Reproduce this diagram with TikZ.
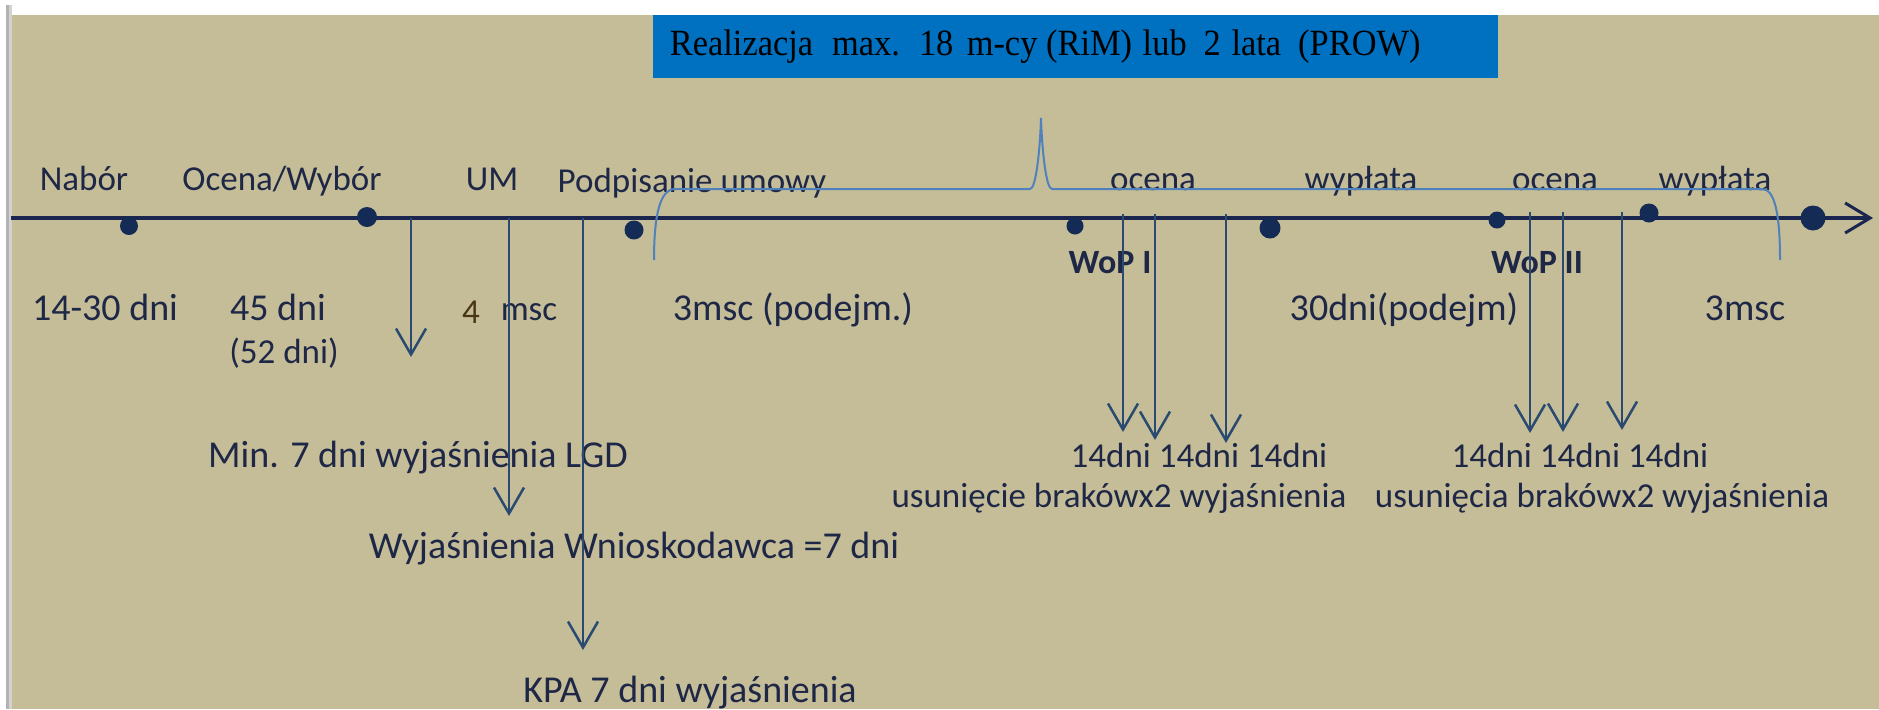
\documentclass[tikz,border=0pt]{standalone}
\usepackage{fontspec}
\setmainfont{Carlito}
\newfontfamily\timesf{Liberation Serif}
\usetikzlibrary{arrows.meta}
\definecolor{bg}{HTML}{C4BD97}
\definecolor{boxblue}{HTML}{0070C0}
\definecolor{navy}{HTML}{1A2550}
\definecolor{dotc}{HTML}{142B55}
\definecolor{txt}{HTML}{1F2747}
\definecolor{arr}{HTML}{2A4A72}
\definecolor{bracec}{HTML}{4F81BD}
\definecolor{four}{HTML}{4A3814}
\tikzset{
  lbl/.style={font=\fontsize{17.5}{20}\selectfont, text=txt, inner sep=0pt, anchor=base},
  biglbl/.style={lbl, font=\fontsize{19}{22}\selectfont},
  boldlbl/.style={lbl, font=\fontsize{17}{20}\selectfont\bfseries},
  tdot/.style={circle, fill=dotc, inner sep=0pt, minimum size=#1},
  varrow/.style={draw=arr, line width=1.25pt, -{Straight Barb[length=13pt, width=15pt, line width=1.25pt]}},
  bluebox/.style={fill=boxblue, anchor=north west, minimum width=422.5pt, minimum height=31.5pt, text width=406pt, inner xsep=8pt, align=left, font=\timesf\fontsize{18.5}{20}\selectfont, text=black}
}
\begin{document}
\begin{tikzpicture}[x=0.5pt, y=-0.5pt]
\useasboundingbox (0,0) rectangle (1879,709);
\fill[white] (0,0) rectangle (1879,709);
\fill[bg] (12,15) rectangle (1879,709);
\fill[gray!60] (6,5) rectangle (9,709);
\fill[gray!35] (9,5) rectangle (12,709);

% title box
\node[bluebox] (box) at (653,15) {\scalebox{0.93}[1]{Realizacja\hspace{4pt} max.\hspace{1pt} 18\hspace{1pt} m-cy\hspace{-1.5pt} (RiM)\hspace{-0.5pt} lub\hspace{3pt} 2\hspace{-0.5pt} lata\hspace{3pt} (PROW)}};

% labels above the line
\node[lbl] (nabor) at (84,190) {Nabór};
\node[lbl] (ocwyb) at (282,190) {Ocena/Wybór};
\node[lbl] (um) at (492,190) {UM};
\node[lbl] (podp) at (692,192) {Podpisanie umowy};
\node[lbl] (oc1) at (1153,190) {ocena};
\node[lbl] (wyp1) at (1361,190) {wypłata};
\node[lbl] (oc2) at (1555,190) {ocena};
\node[lbl] (wyp2) at (1715,190) {wypłata};

% labels below the line
\node[biglbl] (d1430) at (105,320) {14-30 dni};
\node[biglbl] (d45) at (278,320) {45 dni};
\node[lbl] (d52) at (284,363) {(52 dni)};
\node[lbl, text=four] (four) at (471,323) {4};
\node[lbl] (msc) at (529,320) {msc};
\node[biglbl] (m3a) at (793,320) {3msc (podejm.)};
\node[boldlbl] (wop1) at (1110,273) {WoP I};
\node[biglbl] (d30) at (1404,320) {30dni(podejm)};
\node[boldlbl] (wop2) at (1537,273) {WoP II};
\node[biglbl] (m3b) at (1745,320) {3msc};

% bottom labels
\node[biglbl] (lgd) at (418,467) {Min. 7 dni wyjaśnienia LGD};
\node[biglbl] (wnio) at (634,558) {Wyjaśnienia Wnioskodawca =7 dni};
\node[biglbl] (kpa) at (690,702) {KPA 7 dni wyjaśnienia};
\node[lbl] (dni1) at (1199,467) {14dni 14dni 14dni};
\node[lbl] (usu1) at (1119,507) {usunięcie brakówx2 wyjaśnienia};
\node[lbl] (dni2) at (1580,467) {14dni 14dni 14dni};
\node[lbl] (usu2) at (1602,507) {usunięcia brakówx2 wyjaśnienia};

% timeline
\coordinate (t0) at (11,218);
\coordinate (t1) at (1873,218);
\draw[navy, line width=2pt, -{Straight Barb[length=12.5pt, width=15pt, line width=1.5pt]}] (t0) -- (t1);

% dots
\node[tdot=9pt] (p1) at (129,226) {};
\node[tdot=10pt] (p2) at (367,217) {};
\node[tdot=9.5pt] (p3) at (634,230) {};
\node[tdot=8.5pt] (p4) at (1075,226) {};
\node[tdot=10.5pt] (p5) at (1270,228) {};
\node[tdot=8.5pt] (p6) at (1497,220) {};
\node[tdot=9.5pt] (p7) at (1649,213) {};
\node[tdot=12.5pt] (p8) at (1813,218) {};

% vertical arrows
\coordinate (a1s) at (411,218);  \coordinate (a1e) at (411,357);
\coordinate (a2s) at (509,218);  \coordinate (a2e) at (509,516);
\coordinate (a3s) at (583,218);  \coordinate (a3e) at (583,650);
\coordinate (b1s) at (1123,214); \coordinate (b1e) at (1123,432);
\coordinate (b2s) at (1155,214); \coordinate (b2e) at (1155,440);
\coordinate (b3s) at (1226,214); \coordinate (b3e) at (1226,443);
\coordinate (c1s) at (1530,212); \coordinate (c1e) at (1530,433);
\coordinate (c2s) at (1563,212); \coordinate (c2e) at (1563,432);
\coordinate (c3s) at (1622,212); \coordinate (c3e) at (1622,430);
\foreach \a in {a1,a2,a3,b1,b2,b3,c1,c2,c3} {\draw[varrow] (\a s) -- (\a e);}

% brace
\coordinate (br0) at (654,260);
\coordinate (br1) at (1041,118);
\coordinate (br2) at (1780,260);
\draw[bracec, line width=1pt] (br0) .. controls (654,215) and (660,189) .. (675,189) -- (1030,189)
  .. controls (1036,189) and (1040,150) .. (br1)
  .. controls (1042,150) and (1046,189) .. (1052,189) -- (1762,189)
  .. controls (1775,189) and (1780,215) .. (br2);
\end{tikzpicture}
\end{document}
